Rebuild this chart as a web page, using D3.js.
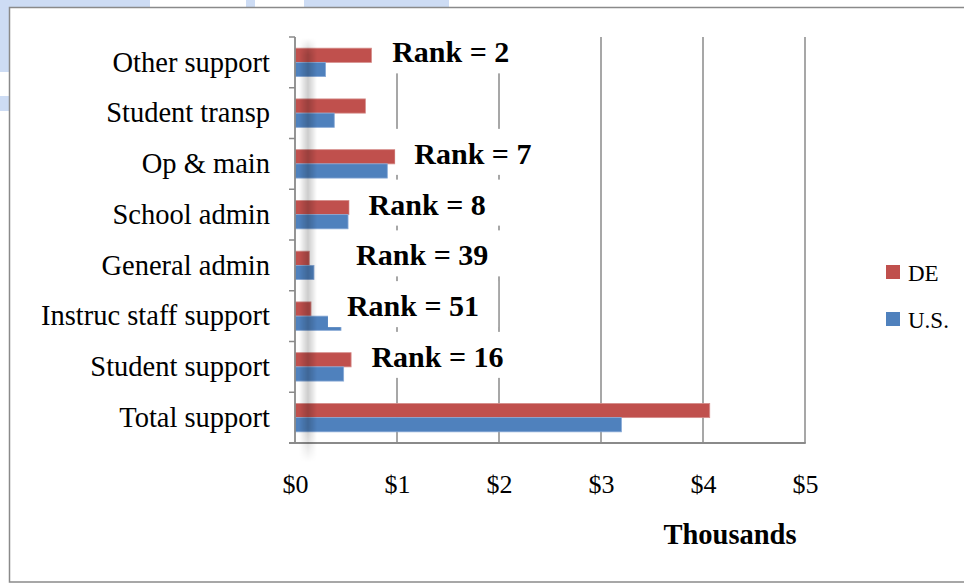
<!DOCTYPE html>
<html><head><meta charset="utf-8">
<script src="https://cdn.jsdelivr.net/npm/d3@7"></script>
<style>body{margin:0;background:#fff}svg{display:block}</style>
</head><body>
<script>
const categories = ["Other support","Student transp","Op & main","School admin","General admin","Instruc staff support","Student support","Total support"];
const seriesNames = ["DE","U.S."];
const deValues = [0.75,0.69,0.98,0.53,0.14,0.157,0.55,4.066];
const usValues = [0.30,0.385,0.905,0.52,0.186,0.451,0.477,3.20];
const xTicks = [0,1,2,3,4,5];
const rankCategories = ["Other support","Op & main","School admin","General admin","Instruc staff support","Student support"];
const rankLabels = ["Rank = 2","Rank = 7","Rank = 8","Rank = 39","Rank = 51","Rank = 16"];
const rankAnchor = [1.527,1.744,1.296,1.247,1.157,1.397];
const axisTitle = "Thousands";

const W = 964, H = 584;
const colors = {"DE":"#C0504D","U.S.":"#4F81BD"};
const strokes = {"DE":"#d58e8c","U.S.":"#88a9d6"};
const serif = "'Liberation Serif', 'Times New Roman', serif";
const gridColor = "#8a8a8a";

const svg = d3.select("body").append("svg").attr("width",W).attr("height",H);
const defs = svg.append("defs");

// background decorative shapes (outside frame)
const bg = svg.append("g").attr("fill","#cddcf4");
bg.append("rect").attr("x",0).attr("y",0).attr("width",150).attr("height",8);
bg.append("rect").attr("x",246).attr("y",0).attr("width",9).attr("height",8);
bg.append("rect").attr("x",304).attr("y",0).attr("width",145).attr("height",8);
bg.append("rect").attr("x",0).attr("y",0).attr("width",10).attr("height",72);
bg.append("rect").attr("x",0).attr("y",96).attr("width",10).attr("height",15);

// frame
svg.append("rect").attr("x",9.5).attr("y",7.5).attr("width",970).attr("height",574.5)
  .attr("fill","#fff").attr("stroke","#8a8a8a").attr("stroke-width",1.5);

const x = d3.scaleLinear().domain([0,5]).range([295,805]);
const y = d3.scaleBand().domain(categories).range([37,443]).paddingInner(0.44).paddingOuter(0.22);
const ys = d3.scaleBand().domain(seriesNames).range([0,y.bandwidth()]);

// gridlines
svg.append("g").selectAll("line").data(xTicks.filter(d=>d>0)).join("line")
  .attr("x1",d=>x(d)).attr("x2",d=>x(d)).attr("y1",37).attr("y2",443)
  .attr("stroke",gridColor).attr("stroke-width",1.5);

// bars
const rows = categories.map((c,i)=>({cat:c, vals:[{s:"DE",v:deValues[i]},{s:"U.S.",v:usValues[i]}]}));
const gBars = svg.append("g");
rows.forEach(r=>{
  gBars.selectAll(null).data(r.vals).join("rect")
    .attr("x",x(0)).attr("y",d=>y(r.cat)+ys(d.s))
    .attr("width",d=>x(d.v)-x(0)).attr("height",ys.bandwidth())
    .attr("fill",d=>colors[d.s]).attr("stroke",d=>strokes[d.s]).attr("stroke-width",0.8);
});

// axes lines
const step = y.step();
const first = y(categories[0]) - (step - y.bandwidth())/2;
const bounds = d3.range(categories.length+1).map(i=>first+i*step);
svg.append("g").selectAll("line").data(bounds).join("line")
  .attr("x1",289).attr("x2",x(0)).attr("y1",d=>d).attr("y2",d=>d)
  .attr("stroke",gridColor).attr("stroke-width",1.5);
svg.append("line").attr("x1",x(0)).attr("x2",x(0)).attr("y1",37).attr("y2",443)
  .attr("stroke",gridColor).attr("stroke-width",1.8);
svg.append("line").attr("x1",289).attr("x2",x(5)+0.75).attr("y1",443).attr("y2",443)
  .attr("stroke",gridColor).attr("stroke-width",1.8);

// y axis labels
const ya = svg.append("g").attr("transform",`translate(${x(0)},0)`)
  .call(d3.axisLeft(y).tickSize(0).tickPadding(25));
ya.select(".domain").remove();
ya.selectAll("text").attr("font-family",serif).attr("font-size",28.5).attr("fill","#000");

// x axis labels
const xa = svg.append("g").attr("transform","translate(0,443)")
  .call(d3.axisBottom(x).tickValues(xTicks).tickSize(0).tickFormat(d=>"$"+d));
xa.select(".domain").remove();
xa.selectAll("text").attr("font-family",serif).attr("font-size",26).attr("fill","#000")
  .attr("y",50).attr("dy",null);

// axis title
svg.append("text").attr("x",730).attr("y",544).attr("text-anchor","middle")
  .attr("font-family",serif).attr("font-weight","bold").attr("font-size",28.5).text(axisTitle);

// shadow stripe
const gh = defs.append("linearGradient").attr("id","shH").attr("x1","0").attr("x2","1").attr("y1","0").attr("y2","0");
gh.append("stop").attr("offset","0").attr("stop-color","#000").attr("stop-opacity",0);
gh.append("stop").attr("offset","0.5").attr("stop-color","#000").attr("stop-opacity",0.2);
gh.append("stop").attr("offset","1").attr("stop-color","#000").attr("stop-opacity",0);
const gv = defs.append("linearGradient").attr("id","shV").attr("x1","0").attr("x2","0").attr("y1","0").attr("y2","1");
gv.append("stop").attr("offset","0").attr("stop-color","#fff").attr("stop-opacity",0);
gv.append("stop").attr("offset","0.04").attr("stop-color","#fff").attr("stop-opacity",1);
gv.append("stop").attr("offset","0.92").attr("stop-color","#fff").attr("stop-opacity",1);
gv.append("stop").attr("offset","1").attr("stop-color","#fff").attr("stop-opacity",0);
const mask = defs.append("mask").attr("id","shM");
mask.append("rect").attr("x",299).attr("y",38).attr("width",18).attr("height",424).attr("fill","url(#shV)");
svg.append("rect").attr("x",299).attr("y",38).attr("width",18).attr("height",424)
  .attr("fill","url(#shH)").attr("mask","url(#shM)");

// rank labels with white boxes
const gR = svg.append("g");
rankLabels.forEach((lab,i)=>{
  const cy = y(rankCategories[i]) + y.bandwidth()/2;
  const g = gR.append("g");
  const rect = g.append("rect").attr("fill","#fff");
  const t = g.append("text").attr("x",x(rankAnchor[i])).attr("y",cy).attr("text-anchor","middle")
    .attr("font-family",serif).attr("font-weight","bold").attr("font-size",30).attr("fill","#000").text(lab);
  const bb = t.node().getBBox();
  rect.attr("x",bb.x-19).attr("width",bb.width+38).attr("y",cy-35).attr("height",46);
});

// legend
const lg = svg.append("g");
seriesNames.forEach((s,i)=>{
  lg.append("rect").attr("x",886).attr("y",265+i*47).attr("width",14).attr("height",14).attr("fill",colors[s]);
  lg.append("text").attr("x",908).attr("y",281+i*46.5).attr("font-family",serif).attr("font-size",23).attr("fill","#000").text(s);
});
</script>
</body></html>
